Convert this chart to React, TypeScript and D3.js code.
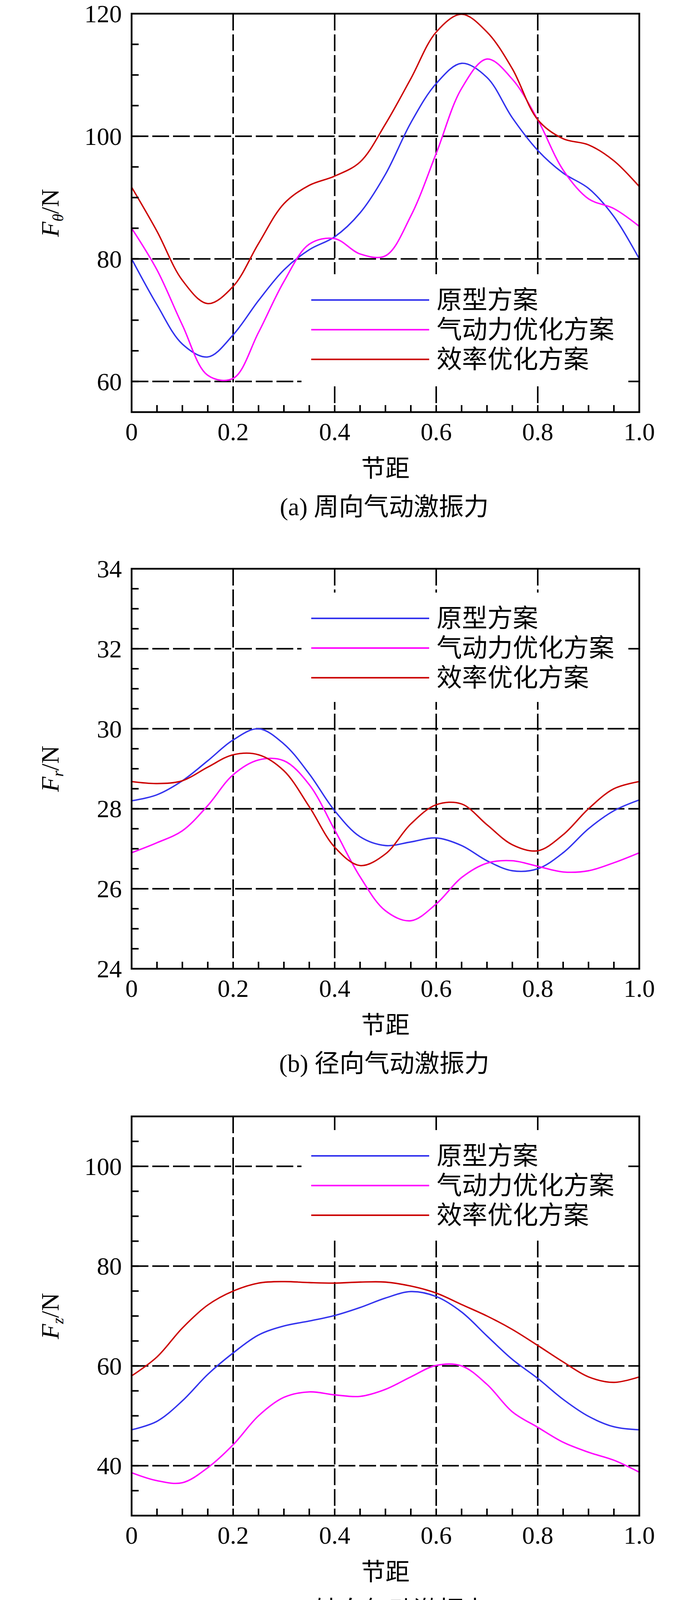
import React, { useEffect, useRef } from 'react';
import * as d3 from 'd3';

// pitch positions (x) shared by all curves
const pitch = [0, 0.05, 0.1, 0.15, 0.2, 0.25, 0.3, 0.35, 0.4, 0.45, 0.5, 0.55, 0.6, 0.65, 0.7, 0.75, 0.8, 0.85, 0.9, 0.95, 1.0];

// (a) circumferential force F_theta / N
const ftProto = [80, 72.5, 66.1, 64.0, 67.6, 73.2, 78.2, 81.5, 83.6, 87.5, 93.8, 102.2, 108.6, 111.9, 109.6, 103.0, 97.7, 94.0, 91.5, 86.9, 80];
const ftAero = [85, 78.2, 69.2, 61.0, 60.5, 68.0, 76.3, 82.4, 83.3, 80.8, 80.5, 87.0, 97.2, 107.8, 112.6, 109.3, 102.7, 94.5, 89.8, 88.2, 85.3];
const ftEff = [91.7, 84.5, 76.5, 72.7, 75.5, 82.5, 89.0, 92.0, 93.5, 95.8, 102.0, 109.4, 117.0, 119.9, 117.0, 111.0, 102.7, 99.6, 98.6, 96.0, 91.8];

// (b) radial force F_r / N
const frProto = [28.2, 28.35, 28.7, 29.2, 29.72, 30.0, 29.62, 28.87, 27.95, 27.3, 27.08, 27.17, 27.27, 27.08, 26.7, 26.45, 26.5, 26.9, 27.5, 27.95, 28.22];
const frAero = [26.9, 27.15, 27.45, 28.08, 28.85, 29.22, 29.2, 28.6, 27.47, 26.3, 25.45, 25.2, 25.62, 26.28, 26.64, 26.7, 26.56, 26.42, 26.45, 26.65, 26.9];
const frEff = [28.68, 28.63, 28.7, 29.04, 29.35, 29.35, 28.95, 28.05, 27.04, 26.58, 26.87, 27.62, 28.1, 28.12, 27.6, 27.1, 26.95, 27.35, 28.0, 28.5, 28.68];

// (c) axial force F_z / N
const fzProto = [47.2, 48.9, 53.0, 58.3, 62.6, 66.2, 68.0, 69.0, 70.1, 71.7, 73.6, 74.9, 73.9, 70.8, 66.0, 61.3, 57.5, 53.3, 49.9, 47.8, 47.2];
const fzAero = [38.6, 37.0, 36.6, 39.6, 44.2, 50.0, 53.7, 54.8, 54.2, 53.9, 55.3, 57.8, 60.1, 60.0, 56.3, 50.8, 47.7, 44.7, 42.7, 41.1, 38.7];
const fzEff = [58.0, 61.8, 67.6, 72.2, 75.0, 76.6, 76.9, 76.7, 76.6, 76.8, 76.8, 76.0, 74.6, 72.3, 70.0, 67.3, 64.1, 60.8, 57.8, 56.7, 57.8];

// (d) circumferential moment T_z / (N·m)
const tzProto = [7.2, 6.66, 6.14, 5.96, 6.28, 6.77, 7.24, 7.54, 7.72, 8.0, 8.62, 9.3, 9.75, 9.98, 9.75, 9.28, 8.78, 8.46, 8.2, 7.85, 7.2];
const tzAero = [7.67, 7.17, 6.43, 5.68, 5.63, 6.21, 7.02, 7.55, 7.65, 7.47, 7.43, 8.0, 8.85, 9.65, 10.04, 9.76, 9.22, 8.62, 8.17, 7.97, 7.7];
const tzEff = [8.2, 7.62, 7.0, 6.75, 6.97, 7.5, 8.08, 8.42, 8.56, 8.75, 9.25, 9.85, 10.41, 10.62, 10.38, 9.81, 9.24, 8.88, 8.78, 8.65, 8.23];

const seriesNames = ['原型方案', '气动力优化方案', '效率优化方案'];
const seriesColors = ['#3333ee', '#ff00ff', '#cc0000'];

const xTicks = [0, 0.2, 0.4, 0.6, 0.8, 1.0];
const xTickLabels = ['0', '0.2', '0.4', '0.6', '0.8', '1.0'];

const ftTicks = [60, 80, 100, 120];
const frTicks = [24, 26, 28, 30, 32, 34];
const fzTicks = [40, 60, 80, 100];
const tzTicks = [6, 7, 8, 9, 10, 11];

const captions = ['(a) 周向气动激振力', '(b) 径向气动激振力', '(c) 轴向气动激振力', '(d) 周向气动激振力矩'];

const serif = "'Liberation Serif', 'Times New Roman', serif";
const cjk = "'Liberation Serif', 'Noto Sans CJK SC', sans-serif";

const panels = [
  { top: 35, bottom: 1055, domain: [55, 120], ticks: ftTicks, minor: 5, sym: 'F', sub: 'θ', unit: '/N', labelX: 150, legendY: 768, legendDx: 0, data: [ftProto, ftAero, ftEff] },
  { top: 1456, bottom: 2480, domain: [24, 34], ticks: frTicks, minor: 0.5, sym: 'F', sub: 'r', unit: '/N', labelX: 150, legendY: 1583, legendDx: 0, data: [frProto, frAero, frEff] },
  { top: 2858, bottom: 3880, domain: [30, 110], ticks: fzTicks, minor: 5, sym: 'F', sub: 'z', unit: '/N', labelX: 150, legendY: 2959, legendDx: 0, data: [fzProto, fzAero, fzEff] },
  { top: 4299, bottom: 5322, domain: [5.5, 11], ticks: tzTicks, minor: 0.2, sym: 'T', sub: 'z', unit: '/(N·m)', labelX: 214, legendY: 5064, legendDx: 20, data: [tzProto, tzAero, tzEff] },
];

const W = 1772;
const H = 5598;
const left = 337;
const right = 1637;

const App: React.FC = () => {
  const svgRef = useRef<SVGSVGElement>(null);

  useEffect(() => {
    if (!svgRef.current) return;
    const svg = d3.select(svgRef.current);
    svg.selectAll('*').remove();

    svg.append('rect').attr('width', W).attr('height', H).attr('fill', '#fff');

    const x = d3.scaleLinear().domain([0, 1]).range([left, right]);

    panels.forEach((p, pi) => {
      const y = d3.scaleLinear().domain(p.domain).range([p.bottom, p.top]);
      const g = svg.append('g');

      // dashed grid
      const grid = g.append('g')
        .attr('stroke', '#000')
        .attr('stroke-width', 4)
        .attr('stroke-dasharray', '43,10')
        .attr('fill', 'none');
      p.ticks.filter(t => t > p.domain[0] && t < p.domain[1]).forEach(t => {
        grid.append('line')
          .attr('x1', left).attr('x2', right)
          .attr('y1', y(t)).attr('y2', y(t));
      });
      xTicks.filter(t => t > 0 && t < 1).forEach(t => {
        grid.append('line')
          .attr('x1', x(t)).attr('x2', x(t))
          .attr('y1', p.top).attr('y2', p.bottom);
      });

      // legend background hides the grid
      const lx0 = 772 + p.legendDx;
      g.append('rect')
        .attr('x', lx0)
        .attr('y', p.legendY - 66)
        .attr('width', 828)
        .attr('height', 152 + 128)
        .attr('fill', '#fff');

      // curves
      const line = d3.line<number>()
        .x((_, i) => x(pitch[i]))
        .y(d => y(d))
        .curve(d3.curveCatmullRom.alpha(0.5));

      p.data.forEach((vals, si) => {
        g.append('path')
          .attr('d', line(vals) as string)
          .attr('fill', 'none')
          .attr('stroke', seriesColors[si])
          .attr('stroke-width', 3.6);
      });

      // frame
      g.append('rect')
        .attr('x', left).attr('y', p.top)
        .attr('width', right - left).attr('height', p.bottom - p.top)
        .attr('fill', 'none')
        .attr('stroke', '#000')
        .attr('stroke-width', 4.5);

      // minor ticks (inward)
      const ticks = g.append('g').attr('stroke', '#000').attr('stroke-width', 4);
      d3.range(p.domain[0], p.domain[1] + 1e-9, p.minor).forEach(v => {
        ticks.append('line')
          .attr('x1', left).attr('x2', left + 18)
          .attr('y1', y(v)).attr('y2', y(v));
      });
      d3.range(0, 1 + 1e-9, 0.05).forEach(v => {
        ticks.append('line')
          .attr('x1', x(v)).attr('x2', x(v))
          .attr('y1', p.bottom).attr('y2', p.bottom - 18);
      });

      // tick labels
      p.ticks.forEach(t => {
        g.append('text')
          .attr('x', 312)
          .attr('y', y(t) + 22)
          .attr('text-anchor', 'end')
          .attr('font-family', serif)
          .attr('font-size', 64)
          .text(String(t));
      });
      xTicks.forEach((t, i) => {
        g.append('text')
          .attr('x', x(t))
          .attr('y', p.bottom + 72)
          .attr('text-anchor', 'middle')
          .attr('font-family', serif)
          .attr('font-size', 64)
          .text(xTickLabels[i]);
      });

      // axis titles
      g.append('text')
        .attr('x', 987)
        .attr('y', p.bottom + 166)
        .attr('text-anchor', 'middle')
        .attr('font-family', cjk)
        .attr('font-size', 62)
        .text('节距');

      const cy = (p.top + p.bottom) / 2;
      const yl = g.append('text')
        .attr('transform', `translate(${p.labelX},${cy}) rotate(-90)`)
        .attr('text-anchor', 'middle')
        .attr('font-family', serif)
        .attr('font-size', 64);
      yl.append('tspan').attr('font-style', 'italic').text(p.sym);
      yl.append('tspan').attr('font-style', 'italic').attr('font-size', 40).attr('dy', 12).text(p.sub);
      yl.append('tspan').attr('dy', -12).text(p.unit);

      // caption
      g.append('text')
        .attr('x', 984)
        .attr('y', p.bottom + 264)
        .attr('text-anchor', 'middle')
        .attr('font-family', cjk)
        .attr('font-size', 64)
        .text(captions[pi]);

      // legend
      seriesNames.forEach((name, si) => {
        const ly = p.legendY + si * 76;
        g.append('line')
          .attr('x1', 797 + p.legendDx).attr('x2', 1099 + p.legendDx)
          .attr('y1', ly).attr('y2', ly)
          .attr('stroke', seriesColors[si])
          .attr('stroke-width', 4);
        g.append('text')
          .attr('x', 1118 + p.legendDx)
          .attr('y', ly + 22)
          .attr('font-family', cjk)
          .attr('font-size', 65)
          .text(name);
      });
    });
  }, []);

  return (
    <svg
      ref={svgRef}
      width={W}
      height={H}
      style={{ display: 'block', margin: -8 }}
    />
  );
};

export default App;
